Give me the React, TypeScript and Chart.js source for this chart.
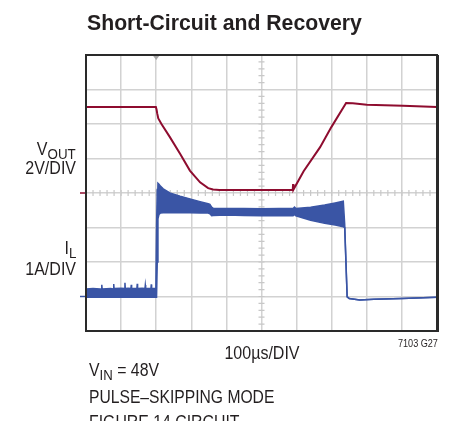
import React, { useEffect, useRef } from "react";
import { Chart, registerables } from "chart.js";
Chart.register(...registerables);

// time axis in µs (100 µs/DIV), vertical axis in divisions
const voutT = [0, 100, 199, 201, 203, 206, 215, 239, 268, 296, 325, 348, 362, 380, 500, 589, 590, 591, 620, 667, 699, 741, 760, 800, 903, 1000];
const voutV = [2.49, 2.49, 2.49, 2.42, 2.3, 2.16, 2.0, 1.62, 1.14, 0.65, 0.31, 0.14, 0.1, 0.09, 0.09, 0.09, 0.26, 0.1, 0.63, 1.33, 1.91, 2.61, 2.6, 2.56, 2.53, 2.49];

const ilT = [0, 20, 40, 44, 45, 46, 70, 78, 79, 80, 100, 110, 111, 112, 120, 128, 129, 130, 145, 146, 147, 160, 168, 169, 170, 185, 186, 187, 199,
  201, 203, 205, 208, 212, 220, 239, 268, 296, 325, 348, 353, 358, 362, 400, 450, 500, 550, 590, 594, 598, 640, 680, 710, 733, 737, 744, 750, 780, 820, 900, 1000];
const ilHi = [-2.78, -2.77, -2.78, -2.78, -2.66, -2.78, -2.77, -2.78, -2.64, -2.77, -2.76, -2.77, -2.6, -2.77, -2.76, -2.77, -2.66, -2.76, -2.77, -2.63, -2.77, -2.76, -2.77, -2.67, -2.76, -2.77, -2.65, -2.77, -2.76,
  -1.0, 0.1, 0.28, 0.25, 0.2, 0.12, 0.0, -0.09, -0.17, -0.25, -0.31, -0.33, -0.41, -0.44, -0.45, -0.45, -0.46, -0.45, -0.45, -0.41, -0.45, -0.41, -0.35, -0.29, -0.24, -0.9, -3.0, -3.06, -3.1, -3.08, -3.06, -3.02];
const ilLo = [-3.02, -3.02, -3.02, -3.02, -3.02, -3.02, -3.02, -3.02, -3.02, -3.02, -3.02, -3.02, -3.02, -3.02, -3.02, -3.02, -3.02, -3.02, -3.02, -3.02, -3.02, -3.02, -3.02, -3.02, -3.02, -3.02, -3.02, -3.02, -3.02,
  -3.02, -2.0, -0.75, -0.62, -0.58, -0.57, -0.57, -0.57, -0.57, -0.58, -0.58, -0.6, -0.66, -0.65, -0.64, -0.65, -0.66, -0.65, -0.66, -0.62, -0.66, -0.79, -0.88, -0.93, -0.98, -1.0, -3.02, -3.06, -3.1, -3.08, -3.06, -3.02];

const xRange = [0, 1000];
const yRange = [-4, 4];
const triggerT = 200;
const voutZero = 0;
const ilZero = -3;

const RED = "#8e0c2f";
const BLUE = "#3a55a5";
const TXT = "#231f20";
const SANS = "'Liberation Sans', Arial, Helvetica, sans-serif";

const scopePlugin = {
  id: "scope",
  beforeDatasetsDraw(chart: any) {
    const { ctx, scales } = chart;
    const xs = scales.x, ys = scales.y;
    const xc = xs.getPixelForValue((xRange[0] + xRange[1]) / 2);
    const yc = ys.getPixelForValue(0);
    ctx.save();
    ctx.strokeStyle = "#c8c8c8";
    ctx.lineWidth = 1.2;
    ctx.beginPath();
    for (let v = xRange[0]; v <= xRange[1]; v += 20) {
      const px = xs.getPixelForValue(v);
      ctx.moveTo(px, yc - 3);
      ctx.lineTo(px, yc + 3);
    }
    for (let v = yRange[0]; v <= yRange[1] + 1e-6; v += 0.2) {
      const py = ys.getPixelForValue(v);
      ctx.moveTo(xc - 3, py);
      ctx.lineTo(xc + 3, py);
    }
    ctx.stroke();
    ctx.restore();
  },
  afterDatasetsDraw(chart: any) {
    const { ctx, chartArea: a, scales } = chart;
    const xs = scales.x, ys = scales.y;
    ctx.save();
    ctx.strokeStyle = "#2a2a2a";
    ctx.lineWidth = 2;
    ctx.strokeRect(a.left, a.top, a.right - a.left, a.bottom - a.top);
    ctx.lineWidth = 1;
    ctx.beginPath();
    ctx.moveTo(a.right + 1.5, a.top);
    ctx.lineTo(a.right + 1.5, a.bottom + 1);
    ctx.stroke();
    const tx = xs.getPixelForValue(triggerT);
    ctx.fillStyle = "#a8a8a8";
    ctx.beginPath();
    ctx.moveTo(tx - 3, a.top + 1);
    ctx.lineTo(tx + 3, a.top + 1);
    ctx.lineTo(tx, a.top + 5);
    ctx.closePath();
    ctx.fill();
    ctx.lineWidth = 1.5;
    ctx.strokeStyle = RED;
    let py = ys.getPixelForValue(voutZero);
    ctx.beginPath();
    ctx.moveTo(a.left - 6, py);
    ctx.lineTo(a.left - 1, py);
    ctx.stroke();
    ctx.strokeStyle = BLUE;
    py = ys.getPixelForValue(ilZero);
    ctx.beginPath();
    ctx.moveTo(a.left - 6, py);
    ctx.lineTo(a.left - 1, py);
    ctx.stroke();
    ctx.restore();
  },
};

function T(props: { x: number; capTop: number; size: number; align?: "left" | "right" | "center"; sx?: number; bold?: boolean; children: any }) {
  const { x, capTop, size, align = "left", sx = 1, bold = false, children } = props;
  const top = capTop - 0.13 * size;
  const style: any = {
    position: "absolute",
    top,
    fontFamily: SANS,
    fontSize: size,
    fontWeight: bold ? 700 : 400,
    lineHeight: 1,
    color: TXT,
    whiteSpace: "nowrap",
    transform: `scaleX(${sx})`,
  };
  if (align === "left") {
    style.left = x;
    style.transformOrigin = "left top";
  } else if (align === "right") {
    style.right = 452 - x;
    style.transformOrigin = "right top";
    style.textAlign = "right";
  } else {
    style.left = x - 200;
    style.width = 400;
    style.textAlign = "center";
    style.transformOrigin = "center top";
  }
  return <div style={style}>{children}</div>;
}

const sub = (s: string, size: number, drop: number) => (
  <span style={{ fontSize: size, position: "relative", top: drop }}>{s}</span>
);

export default function App() {
  const ref = useRef<HTMLCanvasElement>(null);
  useEffect(() => {
    if (!ref.current) return;
    const chart = new Chart(ref.current, {
      type: "line",
      data: {
        datasets: [
          {
            label: "VOUT",
            data: voutT.map((t, i) => ({ x: t, y: voutV[i] })),
            borderColor: RED,
            borderWidth: 2,
            pointRadius: 0,
            tension: 0,
            fill: false,
          },
          {
            label: "IL upper",
            data: ilT.map((t, i) => ({ x: t, y: ilHi[i] })),
            borderColor: BLUE,
            borderWidth: 1.5,
            pointRadius: 0,
            tension: 0,
            fill: false,
          },
          {
            label: "IL lower",
            data: ilT.map((t, i) => ({ x: t, y: ilLo[i] })),
            borderColor: BLUE,
            backgroundColor: BLUE,
            borderWidth: 1.5,
            pointRadius: 0,
            tension: 0,
            fill: "-1",
          },
        ],
      },
      options: {
        responsive: false,
        animation: false,
        events: [],
        layout: { padding: { left: 86, top: 55, right: 15, bottom: 90 } },
        plugins: { legend: { display: false }, tooltip: { enabled: false }, title: { display: false } },
        scales: {
          x: {
            type: "linear",
            min: xRange[0],
            max: xRange[1],
            ticks: { display: false, stepSize: 100 },
            grid: { color: "#d2d2d2", lineWidth: 1.5, drawTicks: false },
            border: { display: false },
          },
          y: {
            type: "linear",
            min: yRange[0],
            max: yRange[1],
            ticks: { display: false, stepSize: 1 },
            grid: { color: "#d2d2d2", lineWidth: 1.5, drawTicks: false },
            border: { display: false },
          },
        },
      },
      plugins: [scopePlugin],
    });
    return () => chart.destroy();
  }, []);

  return (
    <div style={{ position: "fixed", left: 0, top: 0, width: 452, height: 421, background: "#fff", overflow: "hidden" }}>
      <canvas ref={ref} width={452} height={421} style={{ position: "absolute", left: 0, top: 0, width: 452, height: 421 }} />
      <T x={87} capTop={15} size={22} bold sx={0.965}>Short-Circuit and Recovery</T>
      <T x={76} capTop={142.7} size={18} align="right" sx={0.89}>V{sub("OUT", 15, 4)}</T>
      <T x={76} capTop={161.7} size={18} align="right" sx={0.89}>2V/DIV</T>
      <T x={76} capTop={241.7} size={18} align="right" sx={0.89}>I{sub("L", 15, 4)}</T>
      <T x={76} capTop={262.7} size={18} align="right" sx={0.89}>1A/DIV</T>
      <T x={437.7} capTop={340} size={10} align="right" sx={0.91}>7103 G27</T>
      <T x={261.7} capTop={346.7} size={18} align="center" sx={0.89}>100µs/DIV</T>
      <T x={89} capTop={363.3} size={18} sx={0.88}>V{sub("IN", 15, 4)} = 48V</T>
      <T x={89} capTop={390} size={18} sx={0.87}>PULSE–SKIPPING MODE</T>
      <T x={89} capTop={415} size={18} sx={0.88}>FIGURE 14 CIRCUIT</T>
    </div>
  );
}
